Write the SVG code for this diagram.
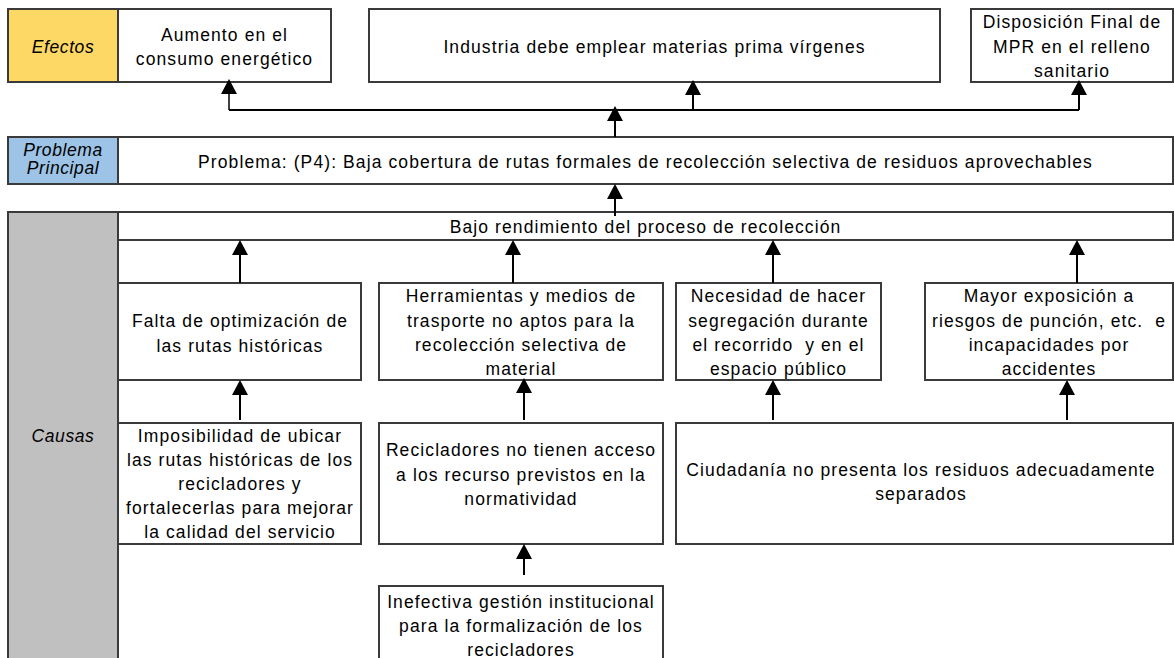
<svg xmlns="http://www.w3.org/2000/svg" width="1174" height="658" viewBox="0 0 1174 658">
<style>
.b{fill:#fff;stroke:#3a3a3a;stroke-width:2}
.t{font-family:"Liberation Sans",Arial,sans-serif;font-size:17.5px;letter-spacing:1.1px;text-anchor:middle;fill:#000;white-space:pre}
.i{font-style:italic;letter-spacing:0.6px}
.c{stroke:#000;stroke-width:2;fill:none}
</style>
<defs>
<marker id="ah" viewBox="0 0 15 16" markerWidth="15" markerHeight="16" refX="11" refY="8" orient="auto" markerUnits="userSpaceOnUse">
<path d="M0,0 L15,8 L0,16 z" fill="#000"/>
</marker>
</defs>
<rect width="1174" height="658" fill="#fff"/>

<g id="lbl-efectos">
<rect x="8" y="9" width="110" height="73" class="b" style="fill:#FDD865"/>
<text x="63" y="52.5" class="t i">Efectos</text>
</g>
<g id="e1">
<rect x="118" y="9" width="213" height="73" class="b"/>
<text x="224.5" y="41" class="t">Aumento en el</text>
<text x="224.5" y="65" class="t">consumo energético</text>
</g>
<g id="e2">
<rect x="369" y="9" width="571" height="73" class="b"/>
<text x="654.5" y="53" class="t">Industria debe emplear materias prima vírgenes</text>
</g>
<g id="e3">
<rect x="971" y="9" width="202" height="73" class="b"/>
<text x="1072" y="28" class="t">Disposición Final de</text>
<text x="1072" y="52.5" class="t">MPR en el relleno</text>
<text x="1072" y="77" class="t">sanitario</text>
</g>

<g id="lbl-problema">
<rect x="8" y="137" width="110" height="47" class="b" style="fill:#9DC3E6"/>
<text x="63" y="156" class="t i">Problema</text>
<text x="63" y="174" class="t i">Principal</text>
</g>
<g id="p">
<rect x="118" y="137" width="1055" height="47" class="b"/>
<text x="645.5" y="167.5" class="t">Problema: (P4): Baja cobertura de rutas formales de recolección selectiva de residuos aprovechables</text>
</g>

<g id="lbl-causas">
<rect x="8" y="212" width="110" height="460" class="b" style="fill:#C0C0C0"/>
<text x="63" y="441.5" class="t i">Causas</text>
</g>
<g id="c0">
<rect x="118" y="212" width="1055" height="28" class="b"/>
<text x="645.5" y="233" class="t">Bajo rendimiento del proceso de recolección</text>
</g>

<g id="c1">
<rect x="118" y="283" width="243" height="97" class="b"/>
<text x="240" y="327" class="t">Falta de optimización de</text>
<text x="240" y="352" class="t">las rutas históricas</text>
</g>
<g id="c2">
<rect x="379" y="283" width="284" height="97" class="b"/>
<text x="521" y="302" class="t">Herramientas y medios de</text>
<text x="521" y="326.5" class="t">trasporte no aptos para la</text>
<text x="521" y="350.5" class="t">recolección selectiva de</text>
<text x="521" y="375" class="t">material</text>
</g>
<g id="c3">
<rect x="676" y="283" width="205" height="97" class="b"/>
<text x="778.5" y="302" class="t">Necesidad de hacer</text>
<text x="778.5" y="326.5" class="t">segregación durante</text>
<text x="778.5" y="350.5" class="t">el recorrido  y en el</text>
<text x="778.5" y="375" class="t">espacio público</text>
</g>
<g id="c4">
<rect x="925" y="283" width="248" height="97" class="b"/>
<text x="1049" y="302" class="t">Mayor exposición a</text>
<text x="1049" y="326.5" class="t">riesgos de punción, etc.  e</text>
<text x="1049" y="350.5" class="t">incapacidades por</text>
<text x="1049" y="375" class="t">accidentes</text>
</g>

<g id="c5">
<rect x="118" y="423" width="243" height="121" class="b"/>
<text x="240" y="441.5" class="t">Imposibilidad de ubicar</text>
<text x="240" y="465.5" class="t">las rutas históricas de los</text>
<text x="240" y="489.5" class="t">recicladores y</text>
<text x="240" y="513.5" class="t">fortalecerlas para mejorar</text>
<text x="240" y="537.5" class="t">la calidad del servicio</text>
</g>
<g id="c6">
<rect x="379" y="423" width="284" height="121" class="b"/>
<text x="521" y="456" class="t">Recicladores no tienen acceso</text>
<text x="521" y="480.5" class="t">a los recurso previstos en la</text>
<text x="521" y="505" class="t">normatividad</text>
</g>
<g id="c7">
<rect x="676" y="423" width="497" height="121" class="b"/>
<text x="921" y="476" class="t">Ciudadanía no presenta los residuos adecuadamente</text>
<text x="921" y="500" class="t">separados</text>
</g>
<g id="c8">
<rect x="379" y="586" width="284" height="90" class="b"/>
<text x="521" y="608" class="t">Inefectiva gestión institucional</text>
<text x="521" y="632" class="t">para la formalización de los</text>
<text x="521" y="656" class="t">recicladores</text>
</g>

<g id="connectors">
<path d="M229,110 H1079" class="c"/>
<path d="M229,110 V83" class="c" style="stroke-width:1.5" marker-end="url(#ah)"/>
<path d="M693,110 V84" class="c" marker-end="url(#ah)"/>
<path d="M1079,110 V84" class="c" marker-end="url(#ah)"/>
<path d="M615,137 V110" class="c" marker-end="url(#ah)"/>
<path d="M615,216 V188" class="c" marker-end="url(#ah)"/>
<path d="M240,283 V244" class="c" marker-end="url(#ah)"/>
<path d="M513,283 V244" class="c" marker-end="url(#ah)"/>
<path d="M773,283 V244" class="c" marker-end="url(#ah)"/>
<path d="M1077,283 V244" class="c" marker-end="url(#ah)"/>
<path d="M240,420 V384" class="c" marker-end="url(#ah)"/>
<path d="M524,420 V382" class="c" marker-end="url(#ah)"/>
<path d="M773,420 V384" class="c" marker-end="url(#ah)"/>
<path d="M1067,420 V384" class="c" marker-end="url(#ah)"/>
<path d="M524,575 V548" class="c" marker-end="url(#ah)"/>
</g>
</svg>
